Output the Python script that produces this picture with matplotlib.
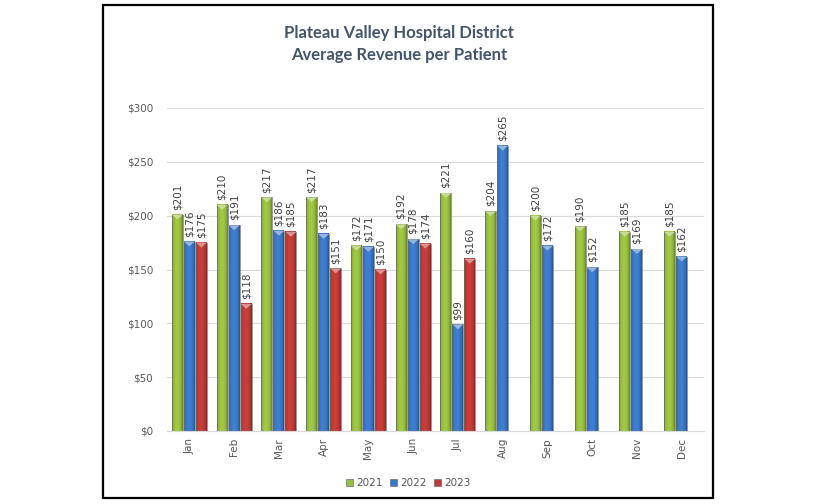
import matplotlib.pyplot as plt
import numpy as np
from matplotlib.colors import to_rgb
from matplotlib.patches import Rectangle, Polygon

months = ['Jan', 'Feb', 'Mar', 'Apr', 'May', 'Jun',
          'Jul', 'Aug', 'Sep', 'Oct', 'Nov', 'Dec']
years = ['2021', '2022', '2023']
rev_2021 = [201, 210, 217, 217, 172, 192, 221, 204, 200, 190, 185, 185]
rev_2022 = [176, 191, 186, 183, 171, 178, 99, 265, 172, 152, 169, 162]
rev_2023 = [175, 118, 185, 151, 150, 174, 160, None, None, None, None, None]
y_ticks = [0, 50, 100, 150, 200, 250, 300]

colors = ['#98BE40', '#3A78C6', '#C03A36']
text_col = '#595959'


def shade(color, n=40):
    # horizontal bevel profile: dark edges, lighter body
    base = np.array(to_rgb(color))
    t = np.linspace(0, 1, n)
    prof = 0.72 + 0.38 * np.sin(np.pi * t) ** 0.5
    prof = prof - 0.08 * t
    return np.clip(base * prof[:, None], 0, 1)[None, :, :]


fig = plt.figure(figsize=(8.16, 5.04), dpi=100)
ax = fig.add_axes([167 / 816, 1 - 431 / 504, (704 - 167) / 816, (431 - 108) / 504])

x = np.arange(len(months))
width = 0.245
step = 0.27
series = [rev_2021, rev_2022, rev_2023]

for i, (vals, col) in enumerate(zip(series, colors)):
    img = shade(col)
    light = 0.55 * np.array(to_rgb(col)) + 0.45
    for xi, v in zip(x, vals):
        if v is None:
            continue
        cx = xi + (i - 1) * step
        x0, x1 = cx - width / 2, cx + width / 2
        ax.imshow(img, extent=[x0, x1, 0, v], aspect='auto', zorder=2,
                  interpolation='bilinear')
        ax.add_patch(Rectangle((x0, 0), width, v, fill=False,
                               ec='#6E6E6E', lw=0.5, zorder=3))
        ax.add_patch(Polygon([(x0, v), (x1, v), (cx, v - 4.5)], closed=True,
                             fc=light, ec='none', zorder=3))
        ax.annotate(f'${v}', (cx, v), xytext=(0, 3.5), textcoords='offset points',
                    rotation=90, ha='center', va='bottom', fontsize=7.5,
                    color='#404040')

ax.set_xlim(-0.5, len(months) - 0.5)
ax.set_ylim(0, 300)
ax.set_yticks(y_ticks)
ax.set_yticklabels([f'${t}' for t in y_ticks])
ax.set_xticks(x)
ax.set_xticklabels(months, rotation=90)
ax.tick_params(length=0, labelsize=7.5, colors=text_col)
ax.tick_params(axis='y', pad=10)
ax.tick_params(axis='x', pad=5)
ax.grid(axis='y', color='#D9D9D9', lw=0.8, zorder=0)
ax.set_axisbelow(True)
for s in ['top', 'right', 'left']:
    ax.spines[s].set_visible(False)
ax.spines['bottom'].set_color('#D9D9D9')

fig.text(0.489, 0.935, 'Plateau Valley Hospital District', ha='center',
         va='center', fontsize=12, fontweight='bold', color='#44546A',
         family='Lato')
fig.text(0.489, 0.891, 'Average Revenue per Patient', ha='center',
         va='center', fontsize=12, fontweight='bold', color='#44546A',
         family='Lato')

handles = [Rectangle((0, 0), 1, 1, fc=c, ec='#6E6E6E', lw=0.5) for c in colors]
fig.legend(handles, years, loc='center', bbox_to_anchor=(0.50, 0.042), ncol=3,
           frameon=False, fontsize=7.5, handlelength=0.7, handleheight=0.7,
           columnspacing=0.7, handletextpad=0.3, labelcolor=text_col)

fig.add_artist(Rectangle((103 / 816, 1 - 498 / 504), (713 - 103) / 816,
                         (498 - 5) / 504, transform=fig.transFigure,
                         fill=False, lw=1.6, ec='black'))

fig.savefig('out.png', dpi=100)
